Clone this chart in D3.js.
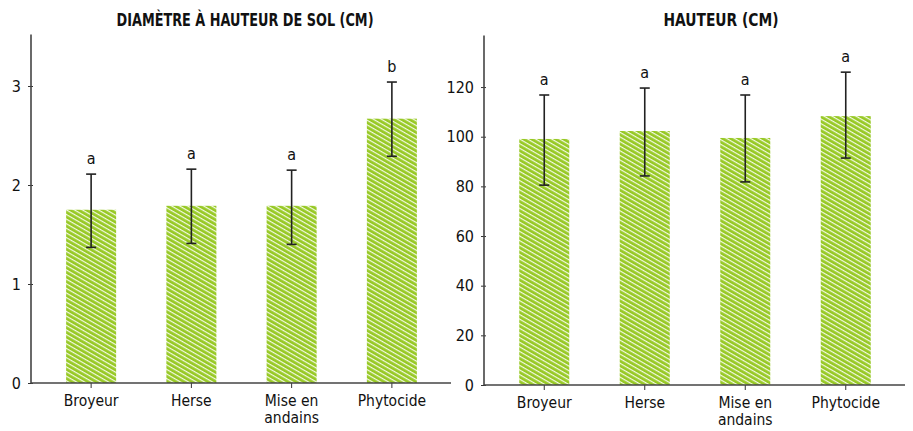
<!DOCTYPE html>
<html>
<head>
<meta charset="utf-8">
<script src="https://cdn.jsdelivr.net/npm/d3@7"></script>
<style>
  body { margin: 0; background: #fff; }
  text { font-family: "Liberation Sans Narrow", "DejaVu Sans Condensed", sans-serif; fill: #111; }
</style>
</head>
<body>
<svg id="chart" width="913" height="431"></svg>
<script>
// data
var categories = ["Broyeur", "Herse", "Mise en andains", "Phytocide"];

var diamMean = [1.75, 1.79, 1.79, 2.67];
var diamLow  = [1.37, 1.41, 1.40, 2.29];
var diamHigh = [2.11, 2.16, 2.15, 3.04];
var diamLetters = ["a", "a", "a", "b"];
var diamTicks = [0, 1, 2, 3];

var hautMean = [99.1, 102.3, 99.5, 108.3];
var hautLow  = [80.5, 84.2, 81.8, 91.4];
var hautHigh = [116.8, 119.6, 116.8, 126.0];
var hautLetters = ["a", "a", "a", "a"];
var hautTicks = [0, 20, 40, 60, 80, 100, 120];

var svg = d3.select("#chart");
var FONT = "Liberation Sans Narrow, DejaVu Sans Condensed, sans-serif";

// striped green fill
var defs = svg.append("defs");
var pat = defs.append("pattern")
    .attr("id", "stripes")
    .attr("patternUnits", "userSpaceOnUse")
    .attr("width", 4)
    .attr("height", 4)
    .attr("patternTransform", "rotate(30)");
pat.append("rect").attr("width", 4).attr("height", 4).attr("fill", "#97c924");
pat.append("rect").attr("width", 4).attr("height", 1.2).attr("fill", "#f4f9e6");

var drawPanel = function (opt) {
    var g = svg.append("g");

    var x = d3.scaleBand()
        .domain(categories)
        .range([opt.x0 + 10, opt.x1 - 9])
        .paddingInner(0.5)
        .paddingOuter(0.25);

    var y = d3.scaleLinear()
        .domain([0, opt.max])
        .range([opt.y0, opt.yTop]);

    // title
    g.append("text")
        .attr("x", opt.titleX)
        .attr("y", 26)
        .attr("text-anchor", "middle")
        .attr("textLength", opt.titleW)
        .attr("lengthAdjust", "spacingAndGlyphs")
        .style("font-weight", "bold")
        .style("font-size", "17px")
        .text(opt.title);

    // bars
    var bw = 50;
    var cx = function (i) { return x(categories[i]) + x.bandwidth() / 2; };
    g.selectAll("rect.bar")
        .data(opt.mean)
        .enter().append("rect")
        .attr("class", "bar")
        .attr("x", function (d, i) { return cx(i) - bw / 2; })
        .attr("y", function (d) { return y(d); })
        .attr("width", bw)
        .attr("height", function (d) { return y(0) - y(d); })
        .attr("fill", "url(#stripes)");

    // error bars
    var err = g.selectAll("g.err")
        .data(opt.mean)
        .enter().append("g")
        .attr("class", "err");
    err.append("line")
        .attr("x1", function (d, i) { return cx(i); })
        .attr("x2", function (d, i) { return cx(i); })
        .attr("y1", function (d, i) { return y(opt.low[i]); })
        .attr("y2", function (d, i) { return y(opt.high[i]); })
        .attr("stroke", "#222").attr("stroke-width", 1.6);
    [opt.low, opt.high].forEach(function (arr) {
        err.append("line")
            .attr("x1", function (d, i) { return cx(i) - 5; })
            .attr("x2", function (d, i) { return cx(i) + 5; })
            .attr("y1", function (d, i) { return y(arr[i]); })
            .attr("y2", function (d, i) { return y(arr[i]); })
            .attr("stroke", "#222").attr("stroke-width", 1.6);
    });

    // letters
    g.selectAll("text.letter")
        .data(opt.letters)
        .enter().append("text")
        .attr("class", "letter")
        .attr("x", function (d, i) { return cx(i); })
        .attr("y", function (d, i) { return y(opt.high[i]) - 10; })
        .attr("text-anchor", "middle")
        .style("font-size", "16px")
        .text(function (d) { return d; });

    // y axis
    var yAxis = d3.axisLeft(y)
        .tickValues(opt.ticks)
        .tickSize(4)
        .tickPadding(6)
        .tickFormat(d3.format("d"));
    var ya = g.append("g")
        .attr("transform", "translate(" + opt.x0 + ",0)")
        .call(yAxis);
    ya.select(".domain").remove();
    ya.selectAll("line").attr("stroke", "#333").attr("x2", -3).attr("x1", 2);
    ya.selectAll("text").style("font-size", "16px").style("font-family", FONT).attr("fill", "#111");
    g.append("line")
        .attr("x1", opt.x0).attr("x2", opt.x0)
        .attr("y1", opt.yTop - 2).attr("y2", opt.y0)
        .attr("stroke", "#444").attr("stroke-width", 1.6);

    // x axis
    var xAxis = d3.axisBottom(x).tickSize(5).tickPadding(4);
    var xa = g.append("g")
        .attr("transform", "translate(0," + opt.y0 + ")")
        .call(xAxis);
    xa.select(".domain").remove();
    xa.selectAll("line").attr("stroke", "#333");
    xa.selectAll("text").remove();
    xa.selectAll("g.tick").each(function (d) {
        var words = d === "Mise en andains" ? ["Mise en", "andains"] : [d];
        var t = d3.select(this).append("text")
            .attr("text-anchor", "middle")
            .attr("fill", "#111")
            .style("font-size", "15.5px")
            .style("font-family", FONT);
        words.forEach(function (w, k) {
            t.append("tspan").attr("x", 0).attr("y", 23 + k * 17).text(w);
        });
    });
    g.append("line")
        .attr("x1", opt.x0).attr("x2", opt.x1)
        .attr("y1", opt.y0).attr("y2", opt.y0)
        .attr("stroke", "#444").attr("stroke-width", 1.6);
};

drawPanel({
    title: "DIAMÈTRE À HAUTEUR DE SOL (CM)", titleX: 245, titleW: 257,
    x0: 31, x1: 451, y0: 383, yTop: 36.5, max: 3.5,
    mean: diamMean, low: diamLow, high: diamHigh, letters: diamLetters, ticks: diamTicks
});

drawPanel({
    title: "HAUTEUR (CM)", titleX: 721, titleW: 115,
    x0: 484, x1: 905, y0: 385, yTop: 37.4, max: 140,
    mean: hautMean, low: hautLow, high: hautHigh, letters: hautLetters, ticks: hautTicks
});
</script>
</body>
</html>
